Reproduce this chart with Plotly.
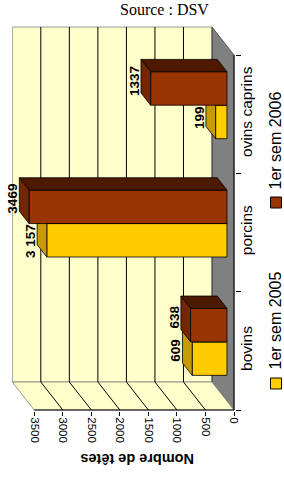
import plotly.graph_objects as go

# ---- data ----
categories = ["bovins", "porcins", "ovins caprins"]
series_names = ["1er sem 2005", "1er sem 2006"]
values_2005 = [609, 3157, 199]
values_2006 = [638, 3469, 1337]
labels_2005 = ["609", "3 157", "199"]
labels_2006 = ["638", "3469", "1337"]
tick_values = [0, 500, 1000, 1500, 2000, 2500, 3000, 3500]
source_text = "Source : DSV"
axis_title = "Nombre de têtes"

# ---- geometry / style ----
W, H = 284, 480
ML, MR, MT, MB = 12, 49, 26, 69
SX = 223 / (3890.7 + 17.5)          # px per value unit
SY = 385 / (3.2367 + 2 / 118.3)     # px per category unit
DX = 22 / SX                         # depth offset (value units)
DY = 28 / SY                         # depth offset (category units)
XRANGE = [3890.7, -1 / SX]
YRANGE = [-0.5 - 1 / SY, 2.5 + DY + 1 / SY]
VMAX = tick_values[-1]
D0, D1 = 0.32, 0.76                  # bar depth (front/back)
BW = 0.283                           # bar thickness per series
LBL_SIZE = 13.5

COL = {
    "2005": dict(front="#FFCC00", end="#C89B00", top="#997300"),
    "2006": dict(front="#993300", end="#732600", top="#4D1A00"),
}
WALL = "#FFFFCC"
FLOOR = "#808080"
EDGE = "#808080"


def P(v, c, d):
    return (v + d * DX, c + d * DY)


def poly(points, fill, line="black", lw=0.8):
    xs = [p[0] for p in points] + [points[0][0]]
    ys = [p[1] for p in points] + [points[0][1]]
    return go.Scatter(x=xs, y=ys, mode="lines", fill="toself", fillcolor=fill,
                      line=dict(color=line, width=lw), hoverinfo="skip",
                      showlegend=False)


def seg(pairs, color, lw=1):
    xs, ys = [], []
    for a, b in pairs:
        xs += [a[0], b[0], None]
        ys += [a[1], b[1], None]
    return go.Scatter(x=xs, y=ys, mode="lines", line=dict(color=color, width=lw),
                      hoverinfo="skip", showlegend=False)


fig = go.Figure()

# floor (right side in rotated view)
fig.add_trace(poly([P(0, -0.5, 0), P(0, 2.5, 0), P(0, 2.5, 1), P(0, -0.5, 1)],
                   FLOOR, line="#404040"))
# back wall
fig.add_trace(poly([P(VMAX, -0.5, 1), P(0, -0.5, 1), P(0, 2.5, 1), P(VMAX, 2.5, 1)],
                   WALL, line=EDGE))
# bottom (side) wall
fig.add_trace(poly([P(0, -0.5, 0), P(VMAX, -0.5, 0), P(VMAX, -0.5, 1), P(0, -0.5, 1)],
                   WALL, line=EDGE))
# gridlines
inner = tick_values[1:-1]
fig.add_trace(seg([(P(v, -0.5, 1), P(v, 2.5, 1)) for v in inner] +
                  [(P(v, -0.5, 0), P(v, -0.5, 1)) for v in inner], "black", 1))
# floor/back-wall boundary
fig.add_trace(seg([(P(0, -0.5, 1), P(0, 2.5, 1))], "#404040", 1))

# bars
for i, cat in enumerate(categories):
    for key, vals, lo, hi in (("2005", values_2005, i - BW, i),
                              ("2006", values_2006, i, i + BW)):
        v = vals[i]
        col = COL[key]
        fig.add_trace(poly([P(0, lo, D0), P(v, lo, D0), P(v, hi, D0), P(0, hi, D0)],
                           col["front"]))
        fig.add_trace(poly([P(0, hi, D0), P(v, hi, D0), P(v, hi, D1), P(0, hi, D1)],
                           col["top"]))
        fig.add_trace(poly([P(v, lo, D0), P(v, hi, D0), P(v, hi, D1), P(v, lo, D1)],
                           col["end"]))

# front axis lines
fig.add_trace(seg([(P(0, -0.5, 0), P(VMAX, -0.5, 0)),
                   (P(0, -0.5, 0), P(0, 2.5, 0))], "black", 1))

annotations = []


def text_len_px(s):
    return sum(0.278 if ch == " " else 0.556 for ch in s) * LBL_SIZE


# value labels (placed at the bar end; the 2005 label is pushed below the
# neighbouring 2006 bar when that bar reaches over it)
XSH = 6.5
for i in range(len(categories)):
    for key, vals, labs, lo_off in (("2005", values_2005, labels_2005, -BW),
                                    ("2006", values_2006, labels_2006, 0)):
        v = vals[i]
        xl = v + D1 * DX + XSH / SX
        yc = i + lo_off + BW / 2 + D0 * DY + 8 / SY
        if key == "2005":
            other = values_2006[i] + D0 * DX
            if other > xl - 5 / SX:
                half = text_len_px(labs[i]) / 2 / SY
                yc = min(yc, i + D0 * DY - half - 1 / SY)
        annotations.append(dict(x=xl, y=yc, xref="x", yref="y", text=labs[i],
                                textangle=-90, showarrow=False, xanchor="center",
                                yanchor="middle",
                                font=dict(family="Liberation Sans", size=LBL_SIZE,
                                          color="black", weight="bold")))


# legend (rotated)
def px2paper(px, py):
    return (px - ML) / (W - ML - MR), (H - MB - py) / (H - MT - MB)


leg = [(series_names[0], COL["2005"]["front"], 383.5, 320.5),
       (series_names[1], COL["2006"]["front"], 202.5, 140.5)]
shapes = []
for name, color, sq_y, txt_y in leg:
    x0, y0 = px2paper(270.5, sq_y + 5.5)
    x1, y1 = px2paper(281.5, sq_y - 5.5)
    shapes.append(dict(type="rect", xref="paper", yref="paper", x0=x0, x1=x1,
                       y0=y0, y1=y1, fillcolor=color, line=dict(color="black", width=1)))
    tx, ty = px2paper(275, txt_y)
    annotations.append(dict(x=tx, y=ty, xref="paper", yref="paper", text=name,
                            textangle=-90, showarrow=False, xanchor="center",
                            yanchor="middle",
                            font=dict(family="Liberation Sans", size=16, color="black")))

# axis title (upside down)
tx, ty = px2paper(137, 459)
annotations.append(dict(x=tx, y=ty, xref="paper", yref="paper", text=axis_title,
                        textangle=180, showarrow=False, xanchor="center", yanchor="middle",
                        font=dict(family="Liberation Sans", size=14.5, color="black",
                                  weight="bold")))
# source
tx, ty = px2paper(164, 10)
annotations.append(dict(x=tx, y=ty, xref="paper", yref="paper", text=source_text,
                        showarrow=False, xanchor="center", yanchor="middle",
                        font=dict(family="Liberation Serif", size=16, color="black")))

fig.update_layout(
    width=W, height=H,
    margin=dict(l=ML, r=MR, t=MT, b=MB, pad=0),
    paper_bgcolor="white", plot_bgcolor="white",
    showlegend=False, hovermode=False,
    annotations=annotations, shapes=shapes,
    xaxis=dict(range=XRANGE, autorange=False, tickmode="array", tickvals=tick_values,
               ticktext=[str(t) for t in tick_values], ticks="outside", ticklen=4,
               tickcolor="black", tickwidth=1, tickangle=90, ticklabelstandoff=-1,
               tickfont=dict(family="Liberation Sans", size=11.5, color="black"),
               showgrid=False, zeroline=False, showline=False),
    yaxis=dict(range=YRANGE, autorange=False, side="right", tickmode="array",
               tickvals=[0, 1, 2], ticktext=categories, ticks="", tickangle=-90,
               tickfont=dict(family="Liberation Sans", size=15.5, color="black"),
               showgrid=False, zeroline=False, showline=False,
               minor=dict(tickmode="array", tickvals=[-0.5, 0.5, 1.5, 2.5],
                          ticks="outside", ticklen=5, tickcolor="black", tickwidth=1,
                          showgrid=False)),
)

fig.write_html("out.html", config={"displayModeBar": False, "staticPlot": True},
               post_script="document.body.style.margin='0';document.body.style.overflow='hidden';")
